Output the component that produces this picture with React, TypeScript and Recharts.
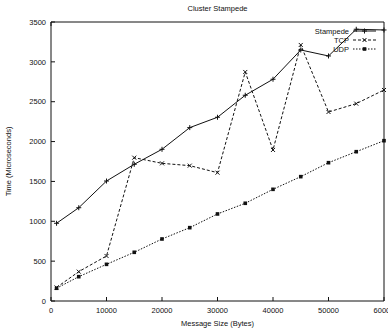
import React from 'react';
import { LineChart, Line, XAxis, YAxis } from 'recharts';

const sizes = [1000, 5000, 10000, 15000, 20000, 25000, 30000, 35000, 40000, 45000, 50000, 55000, 60000];
const stampede = [975, 1170, 1505, 1715, 1903, 2175, 2305, 2581, 2782, 3149, 3074, 3409, 3400];
const tcp = [170, 368, 565, 1798, 1727, 1698, 1610, 2873, 1895, 3212, 2371, 2476, 2647];
const udp = [160, 305, 460, 611, 778, 920, 1092, 1226, 1401, 1560, 1735, 1873, 2011];
const xTicks = [0, 10000, 20000, 30000, 40000, 50000, 60000];
const yTicks = [0, 500, 1000, 1500, 2000, 2500, 3000, 3500];

const data = sizes.map((s, i) => ({ size: s, stampede: stampede[i], tcp: tcp[i], udp: udp[i] }));

const FONT = '"Liberation Sans", Arial, Helvetica, sans-serif';
const FS = 7.5;
const TICK = 4;
const INK = '#111';

const BottomTick = (p: any) => (
  <g>
    <line x1={p.x} x2={p.x} y1={p.y} y2={p.y - TICK} stroke={INK} />
    <text x={p.x} y={p.y + 12} textAnchor="middle" fontSize={FS} fontFamily={FONT} fill={INK}>
      {p.payload.value}
    </text>
  </g>
);
const TopTick = (p: any) => (
  <line x1={p.x} x2={p.x} y1={p.y} y2={p.y + TICK} stroke={INK} />
);
const LeftTick = (p: any) => (
  <g>
    <line x1={p.x} x2={p.x + TICK} y1={p.y} y2={p.y} stroke={INK} />
    <text x={p.x - 5} y={p.y + 2.7} textAnchor="end" fontSize={FS} fontFamily={FONT} fill={INK}>
      {p.payload.value}
    </text>
  </g>
);
const RightTick = (p: any) => (
  <line x1={p.x} x2={p.x - TICK} y1={p.y} y2={p.y} stroke={INK} />
);

const PlusDot = (p: any) => (
  <path key={p.index} d={`M${p.cx - 2.5},${p.cy}h5M${p.cx},${p.cy - 2.5}v5`} stroke={INK} strokeWidth={1} fill="none" />
);
const CrossDot = (p: any) => (
  <path key={p.index} d={`M${p.cx - 2},${p.cy - 2}l4,4M${p.cx - 2},${p.cy + 2}l4,-4`} stroke={INK} strokeWidth={1} fill="none" />
);
const SquareDot = (p: any) => (
  <rect key={p.index} x={p.cx - 1.8} y={p.cy - 1.8} width={3.6} height={3.6} fill={INK} />
);

const legendItems = [
  { name: 'Stampede', dash: undefined as string | undefined, marker: 'plus' },
  { name: 'TCP', dash: '3 2', marker: 'cross' },
  { name: 'UDP', dash: '1.5 1.5', marker: 'square' },
];

export default function App() {
  return (
    <div style={{ position: 'absolute', left: 0, top: 0, width: 388, height: 330, overflow: 'hidden', background: '#fff' }}>
      <LineChart width={420} height={330} data={data} margin={{ top: 0, right: 0, bottom: 0, left: 0 }}>
        <XAxis
          xAxisId="b"
          dataKey="size"
          type="number"
          domain={[0, 60000]}
          ticks={xTicks}
          height={29}
          tickSize={0}
          tickMargin={0}
          tickLine={false}
          axisLine={{ stroke: INK }}
          tick={BottomTick}
          interval={0}
        />
        <XAxis
          xAxisId="t"
          orientation="top"
          type="number"
          domain={[0, 60000]}
          ticks={xTicks}
          height={22}
          tickSize={0}
          tickMargin={0}
          tickLine={false}
          axisLine={{ stroke: INK }}
          tick={TopTick}
          interval={0}
        />
        <YAxis
          yAxisId="l"
          type="number"
          domain={[0, 3500]}
          ticks={yTicks}
          width={51}
          tickSize={0}
          tickMargin={0}
          tickLine={false}
          axisLine={{ stroke: INK }}
          tick={LeftTick}
          interval={0}
        />
        <YAxis
          yAxisId="r"
          orientation="right"
          type="number"
          domain={[0, 3500]}
          ticks={yTicks}
          width={36}
          tickSize={0}
          tickMargin={0}
          tickLine={false}
          axisLine={{ stroke: INK }}
          tick={RightTick}
          interval={0}
        />
        <Line xAxisId="b" yAxisId="l" dataKey="stampede" stroke={INK} strokeWidth={1} dot={PlusDot} isAnimationActive={false} />
        <Line xAxisId="b" yAxisId="l" dataKey="tcp" stroke={INK} strokeWidth={1} strokeDasharray="3 2" dot={CrossDot} isAnimationActive={false} />
        <Line xAxisId="b" yAxisId="l" dataKey="udp" stroke={INK} strokeWidth={1} strokeDasharray="1.5 1.5" dot={SquareDot} isAnimationActive={false} />
      </LineChart>
      <svg width={388} height={330} style={{ position: 'absolute', left: 0, top: 0, pointerEvents: 'none' }}>
        <text x={217.5} y={11} textAnchor="middle" fontSize={FS} fontFamily={FONT} fill={INK}>Cluster Stampede</text>
        <text x={217.5} y={326} textAnchor="middle" fontSize={FS} fontFamily={FONT} fill={INK}>Message Size (Bytes)</text>
        <text transform="translate(11,161.5) rotate(-90)" textAnchor="middle" fontSize={FS} fontFamily={FONT} fill={INK}>Time (Microseconds)</text>
        {legendItems.map((it, i) => {
          const y = 31 + i * 9;
          return (
            <g key={it.name}>
              <text x={349} y={y + 2.7} textAnchor="end" fontSize={FS} fontFamily={FONT} fill={INK}>{it.name}</text>
              <line x1={353} x2={376} y1={y} y2={y} stroke={INK} strokeDasharray={it.dash} />
              {it.marker === 'plus' && <path d={`M362,${y}h5M364.5,${y - 2.5}v5`} stroke={INK} />}
              {it.marker === 'cross' && <path d={`M362.5,${y - 2}l4,4M362.5,${y + 2}l4,-4`} stroke={INK} />}
              {it.marker === 'square' && <rect x={362.7} y={y - 1.8} width={3.6} height={3.6} fill={INK} />}
            </g>
          );
        })}
      </svg>
    </div>
  );
}
